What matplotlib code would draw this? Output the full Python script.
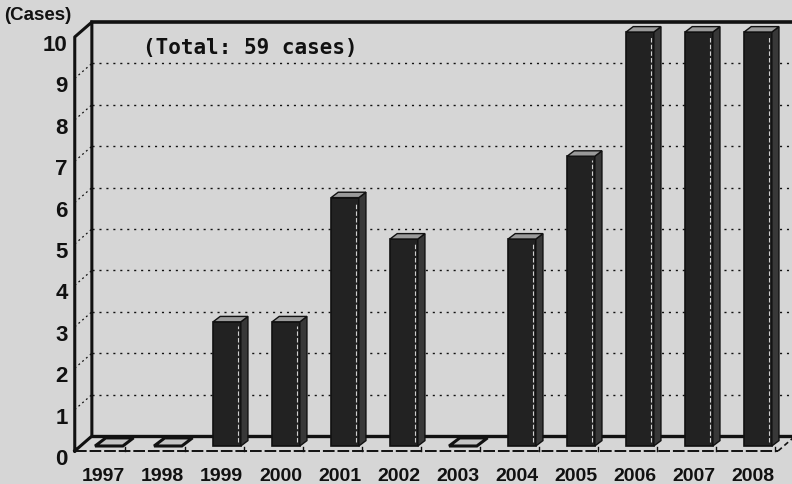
import matplotlib
matplotlib.use('Agg')
import matplotlib.pyplot as plt
from matplotlib.patches import Polygon

years = ['1997', '1998', '1999', '2000', '2001', '2002',
         '2003', '2004', '2005', '2006', '2007', '2008']
cases = [0, 0, 3, 3, 6, 5, 0, 5, 7, 10, 10, 10]
y_ticks = list(range(0, 11))
unit_label = '(Cases)'
total_label = '(Total: 59 cases)'

BG = '#d6d6d6'
INK = '#111111'
BAR_W = 0.47
DX, DY = 0.12, 0.13      # bar depth offset
WX, WY = 0.29, 0.36      # wall depth (front floor edge -> back wall)
FLOOR = -0.12
LEFT = -0.58
BACK = FLOOR + WY
RIGHT_X = 11.34

plt.rcParams['font.family'] = ['Liberation Sans', 'DejaVu Sans']
plt.rcParams['font.weight'] = 'bold'

fig = plt.figure(figsize=(7.92, 4.85), dpi=100, facecolor=BG)
ax = fig.add_axes([0, 0, 1, 1])
ax.set_facecolor(BG)
ax.set_xlim(-1.847, 11.576)
ax.set_ylim(-0.918, 10.797)
ax.axis('off')

xs = list(range(len(years)))
top = max(y_ticks)

# back wall: gridlines, top edge and floor line
for v in y_ticks[1:-1]:
    ax.plot([LEFT + WX, 11.6], [BACK + v, BACK + v], color=INK, lw=1.0,
            ls=(0, (1.5, 3.5)), zorder=1)
    ax.plot([LEFT, LEFT + WX], [FLOOR + v, BACK + v], color=INK, lw=0.9,
            ls=(0, (1.5, 2.5)), zorder=1)
ax.plot([LEFT + WX, 11.6], [BACK + top, BACK + top], color=INK, lw=2.6, zorder=2)
ax.plot([LEFT + WX, 11.6], [BACK, BACK], color=INK, lw=2.4, zorder=2)

# left wall
ax.plot([LEFT, LEFT, LEFT + WX, LEFT + WX, LEFT],
        [FLOOR, FLOOR + top, BACK + top, BACK, FLOOR], color=INK, lw=2.2, zorder=2)

# front floor edge with separators
ax.plot([LEFT, RIGHT_X], [FLOOR, FLOOR], color=INK, lw=1.4, ls=(0, (6, 1.5)), zorder=2)
ax.plot([RIGHT_X, RIGHT_X + WX], [FLOOR, BACK], color=INK, lw=1.2,
        ls=(0, (3, 2)), zorder=2)
for x in xs:
    ax.plot([x + 0.28, x + 0.28], [FLOOR, FLOOR + 0.1], color=INK, lw=1.0, zorder=2)

# bars: front face, right side, top (zero bars show only a flat lid)
ax.bar(xs, cases, width=BAR_W, color='#222222', edgecolor=INK, linewidth=1.2, zorder=3)
for x, v in zip(xs, cases):
    r = x + BAR_W / 2
    l = x - BAR_W / 2
    side = Polygon([(r, 0), (r + DX, DY), (r + DX, v + DY), (r, v)],
                   closed=True, facecolor='#383838', edgecolor=INK, lw=1.0, zorder=3)
    dy = DY * 1.5 if v == 0 else DY
    dx = DX * 1.5 if v == 0 else DX
    lid = Polygon([(l, v), (r, v), (r + dx, v + dy), (l + dx, v + dy)],
                  closed=True, facecolor='#c4c4c4' if v == 0 else '#9a9a9a',
                  edgecolor=INK, lw=2.2 if v == 0 else 1.0, zorder=4)
    ax.add_patch(side)
    ax.add_patch(lid)
    if v > 0:
        ax.plot([r - 0.05, r - 0.05], [0.1, v - 0.1], color='#d0d0d0', lw=0.8,
                ls=(0, (4, 2)), zorder=4)

# value axis labels
for v in y_ticks:
    ax.text(-0.70, v - 0.3, str(v), ha='right', va='center', fontsize=16,
            fontweight='bold', color=INK)

for x, y in zip(xs, years):
    ax.text(x - 0.09, -0.72, y, ha='center', va='center', fontsize=14,
            fontweight='bold', color=INK)

ax.text(-1.20, 10.43, unit_label, ha='center', va='center', fontsize=13.5,
        fontweight='bold', color=INK)
ax.text(2.39, 9.64, total_label, ha='center', va='center', fontsize=15,
        fontweight='bold', color=INK, family=['DejaVu Sans Mono'])

fig.savefig('out.png', dpi=100, facecolor=BG)
